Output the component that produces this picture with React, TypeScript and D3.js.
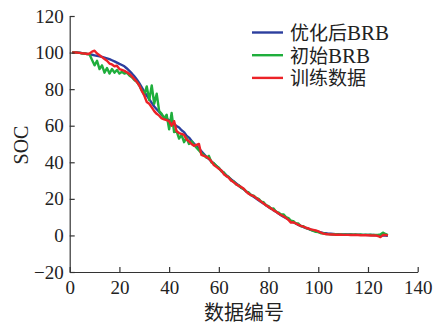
import { useEffect, useRef } from 'react';
import * as d3 from 'd3';

// sample index 1..128
const INDEX = d3.range(1, 129);

const OPTIMIZED = [
  100, 100, 100, 99.9, 99.7, 99.5, 99.3, 99, 98.8, 98.5,
  98.2, 98, 97.6, 97.2, 96.8, 96.4, 95.8, 95.2, 94.5, 93.8,
  93.2, 92.5, 91.3, 90, 88.6, 87, 85.3, 83.3, 81, 78.5,
  76.5, 74.5, 72.5, 70.5, 69, 67.5, 66, 64.5, 63.8, 63,
  61.8, 60.8, 59.8, 59, 57.5, 56.5, 54.5, 53.5, 51.8, 50.3,
  48.8, 47.5, 46, 44.5, 43, 41.8, 40.5, 39.3, 38, 36.8,
  35.5, 34.2, 33, 31.8, 30.6, 29.5, 28.4, 27.3, 26.2, 25.2,
  24.1, 23.1, 22.1, 21.1, 20.2, 19.2, 18.3, 17.4, 16.5, 15.6,
  14.7, 13.8, 12.9, 12, 11.1, 10.3, 9.5, 8.7, 7.9, 7.2,
  6.5, 5.8, 5.2, 4.6, 4.1, 3.6, 3.1, 2.7, 2.3, 2,
  1.7, 1.4, 1.2, 1, 0.9, 0.8, 0.7, 0.7, 0.6, 0.6,
  0.5, 0.5, 0.5, 0.4, 0.4, 0.4, 0.3, 0.3, 0.3, 0.2,
  0.2, 0.2, 0.1, 0.1, 0, 0, -0.1, -0.2,
];

const INITIAL = [
  100, 100, 100, 99.8, 99.5, 99.5, 99.2, 99, 96, 93,
  95.5, 91, 93, 89, 91.5, 88.5, 91, 89, 90.5, 88.5,
  89.5, 88.5, 89, 87.5, 86.5, 85, 84, 82, 79.5, 77,
  81.5, 74, 82, 72, 77.5, 68, 66.5, 64, 66, 58,
  67, 56.5, 57, 53, 55, 51, 53.5, 50, 51.5, 49.5,
  48, 46.5, 45, 44, 42.5, 43.5, 40, 39.5, 38, 37,
  35, 34.5, 32.5, 32, 30, 29.5, 27.8, 27.5, 26, 25.5,
  24, 23.5, 22, 21.8, 20.5, 20, 18.5, 18.2, 16.5, 16,
  14.5, 14.8, 13, 12.5, 11.5, 11.5, 10, 9.5, 8, 7.8,
  6.5, 6.5, 5, 5, 4, 3.8, 3, 2.5, 2, 1.8,
  1.2, 1.2, 0.8, 0.7, 0.6, 0.5, 0.7, 0.4, 0.6, 0.4,
  0.5, 0.3, 0.6, 0.4, 0.5, 0.3, 0.5, 0.3, 0.4, 0.3,
  0.4, 0.2, 0.3, 0.3, 0.5, 1.5, 0.8, 0.2,
];

const TRAINING = [
  100, 100, 100, 99.8, 99.6, 99.5, 99.2, 99.5, 100.5, 101,
  99.5, 98.5, 97.5, 96.5, 95.5, 94, 93.5, 92.5, 92.8, 91,
  90.5, 90, 89.2, 88.3, 87, 85.5, 84, 82, 79, 76.5,
  73, 72, 70, 68, 66.5, 65.5, 64, 63.5, 63, 62.5,
  60, 62.5, 57, 56, 55.5, 55, 52.5, 51.5, 50, 49,
  49.5, 50, 44, 43.5, 43, 42, 40.5, 38.5, 37.5, 36.5,
  35.5, 33.5, 32.5, 31.5, 30, 29, 28, 27, 26.5, 25.5,
  24, 22.8, 22, 21.5, 20.5, 19.5, 18.5, 17.5, 16.5, 15.5,
  14.8, 13.8, 13, 12, 11.2, 10.5, 9.5, 8.5, 7, 7.2,
  6.5, 5.8, 5.2, 4.8, 4.2, 3.8, 3.3, 3, 2.7, 2.2,
  1.6, 1, 0.8, 0.6, 0.5, 0.5, 0.4, 0.4, 0.4, 0.3,
  0.3, 0.3, 0.2, 0.2, 0.2, 0.2, 0.1, 0.1, 0.1, 0.1,
  0, 0, 0, -0.3, -0.9, 0.2, 0.3, 0,
];

const SERIES_NAMES = ['优化后', '初始', '训练数据'];
const SERIES_SUFFIX = ['BRB', 'BRB', ''];
const SERIES_VALUES = [OPTIMIZED, INITIAL, TRAINING];
const COLORS = ['#2c3e9e', '#1fae3c', '#ec2227'];

const X_TICKS = [0, 20, 40, 60, 80, 100, 120, 140];
const Y_TICKS = [-20, 0, 20, 40, 60, 80, 100, 120];

const SERIF = '"Liberation Serif", "Times New Roman", serif';
const CJK = '"Noto Sans CJK SC", sans-serif';

export default function App() {
  const svgRef = useRef<SVGSVGElement>(null);

  useEffect(() => {
    if (!svgRef.current) return;
    const svg = d3.select(svgRef.current);
    svg.selectAll('*').remove();

    const xScale = d3.scaleLinear().domain([0, 140]).range([69.7, 417.7]);
    const yScale = d3.scaleLinear().domain([-20, 120]).range([272, 16]);

    // Lines
    const line = d3
      .line<number>()
      .x((_, i) => xScale(INDEX[i]))
      .y((d) => yScale(d));

    SERIES_VALUES.forEach((values, index) => {
      svg
        .append('path')
        .datum(values)
        .attr('fill', 'none')
        .attr('stroke', COLORS[index])
        .attr('stroke-width', 2.4)
        .attr('stroke-linejoin', 'round')
        .attr('d', line);
    });

    // X axis (ticks inward)
    const xAxis = svg
      .append('g')
      .attr('transform', `translate(0,${yScale(-20)})`)
      .call(
        d3
          .axisBottom(xScale)
          .tickValues(X_TICKS)
          .tickSizeInner(-5)
          .tickSizeOuter(0)
          .tickPadding(9)
      );

    // Y axis (ticks inward)
    const yAxis = svg
      .append('g')
      .attr('transform', `translate(${xScale(0)},0)`)
      .call(
        d3
          .axisLeft(yScale)
          .tickValues(Y_TICKS)
          .tickSizeInner(-5)
          .tickSizeOuter(0)
          .tickPadding(6)
      );

    [xAxis, yAxis].forEach((axis) => {
      axis.select('.domain').attr('stroke', '#333').attr('stroke-width', 1.2);
      axis.selectAll('.tick line').attr('stroke', '#333').attr('stroke-width', 1.2);
      axis
        .selectAll('.tick text')
        .attr('fill', '#222')
        .style('font-family', SERIF)
        .style('font-size', '19px');
    });

    // Axis titles
    svg
      .append('text')
      .attr('x', 244)
      .attr('y', 320)
      .attr('text-anchor', 'middle')
      .attr('fill', '#222')
      .style('font-family', CJK)
      .style('font-size', '20px')
      .text('数据编号');

    svg
      .append('text')
      .attr('transform', 'translate(28,145) rotate(-90)')
      .attr('text-anchor', 'middle')
      .attr('fill', '#222')
      .style('font-family', SERIF)
      .style('font-size', '20px')
      .text('SOC');

    // Legend
    const legend = svg.append('g').attr('transform', 'translate(252,32.5)');
    SERIES_NAMES.forEach((name, index) => {
      const row = legend.append('g').attr('transform', `translate(0, ${index * 22.7})`);
      row
        .append('line')
        .attr('x1', 0)
        .attr('x2', 31)
        .attr('stroke', COLORS[index])
        .attr('stroke-width', 2.4);
      const text = row
        .append('text')
        .attr('x', 38)
        .attr('y', 7.5)
        .attr('fill', '#222');
      text
        .append('tspan')
        .style('font-family', CJK)
        .style('font-size', '19px')
        .text(name);
      if (SERIES_SUFFIX[index]) {
        text
          .append('tspan')
          .style('font-family', SERIF)
          .style('font-size', '21px')
          .text(SERIES_SUFFIX[index]);
      }
    });
  }, []);

  return (
    <svg
      ref={svgRef}
      width={439}
      height={326}
      style={{ position: 'absolute', left: 0, top: 0, background: '#fff' }}
    />
  );
}
